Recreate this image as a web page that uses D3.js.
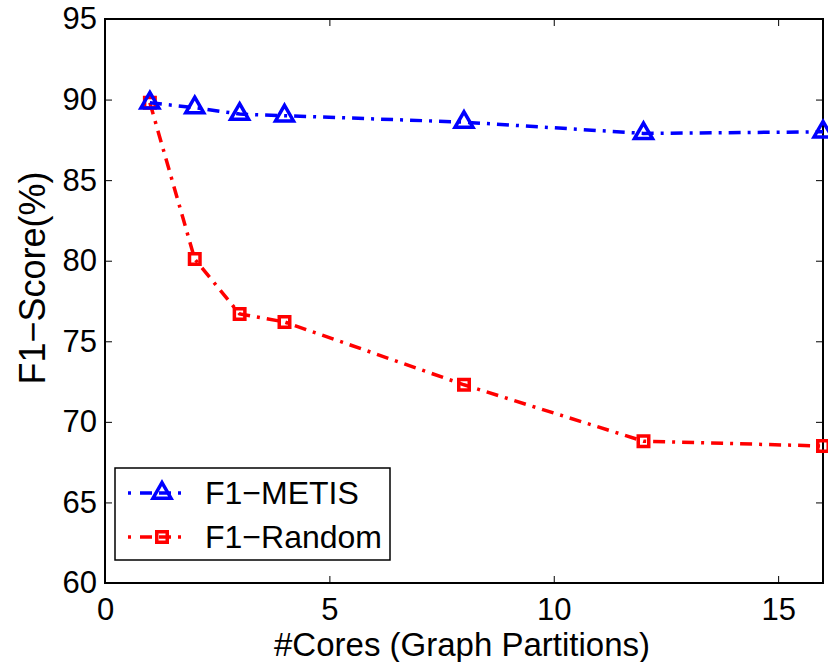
<!DOCTYPE html>
<html><head><meta charset="utf-8">
<script src="https://cdn.jsdelivr.net/npm/d3@7"></script>
<style>body{margin:0;background:#fff}svg{display:block}text{font-family:"Liberation Sans",Arial,sans-serif}</style>
</head><body>
<script>
const cores = [1, 2, 3, 4, 8, 12, 16];
const metis = [89.8, 89.5, 89.1, 89.0, 88.6, 87.9, 88.0];
const random = [89.8, 80.1, 76.7, 76.2, 72.3, 68.8, 68.5];
const xTicks = [0, 5, 10, 15];
const yTicks = [60, 65, 70, 75, 80, 85, 90, 95];
const seriesNames = ["F1\u2212METIS", "F1\u2212Random"];

const W = 828, H = 662;
const L = 105, R = 823, T = 19, B = 583;
const svg = d3.select("body").append("svg").attr("width", W).attr("height", H);
const x = d3.scaleLinear().domain([0, 16]).range([L, R]);
const y = d3.scaleLinear().domain([60, 95]).range([B, T]);

const fs = 31;
const gB = svg.append("g").attr("transform", `translate(0,${B})`)
  .call(d3.axisBottom(x).tickValues(xTicks).tickSize(-7).tickFormat(d3.format("d")));
const gL = svg.append("g").attr("transform", `translate(${L},0)`)
  .call(d3.axisLeft(y).tickValues(yTicks).tickSize(-7).tickPadding(8).tickFormat(d3.format("d")));
const gT = svg.append("g").attr("transform", `translate(0,${T})`)
  .call(d3.axisTop(x).tickValues(xTicks).tickSize(-7).tickFormat(""));
const gR = svg.append("g").attr("transform", `translate(${R},0)`)
  .call(d3.axisRight(y).tickValues(yTicks).tickSize(-7).tickFormat(""));
[gB, gL, gT, gR].forEach(g => {
  g.select(".domain").remove();
  g.selectAll("line").attr("stroke", "#000").attr("stroke-width", 1);
  g.selectAll("text").attr("font-size", fs).attr("fill", "#000")
    .style("font-family", '"Liberation Sans",Arial,sans-serif');
});
gB.selectAll("text").attr("y", 37).attr("dy", null);
svg.append("rect").attr("x", L).attr("y", T).attr("width", R - L).attr("height", B - T)
  .attr("fill", "none").attr("stroke", "#000").attr("stroke-width", 2);

svg.append("text").attr("x", 462).attr("y", 656).attr("text-anchor", "middle")
  .attr("font-size", 33).text("#Cores (Graph Partitions)");
svg.append("text").attr("transform", `translate(45,278) rotate(-90)`)
  .attr("text-anchor", "middle").attr("font-size", 36).text("F1\u2212Score(%)");

const dash = "12,7,3,7";
const line = d3.line().x(d => x(d[0])).y(d => y(d[1]));
const tri = d3.symbol().type(d3.symbolTriangle).size(140);
const sq = d3.symbol().type(d3.symbolSquare).size(110);

function drawSeries(vals, color, sym) {
  const data = cores.map((c, i) => [c, vals[i]]);
  svg.append("path").datum(data).attr("d", line).attr("fill", "none")
    .attr("stroke", color).attr("stroke-width", 3.5).attr("stroke-dasharray", dash);
  svg.selectAll(null).data(data).enter().append("path")
    .attr("d", sym).attr("transform", d => `translate(${x(d[0])},${y(d[1])})`)
    .attr("fill", "none").attr("stroke", color).attr("stroke-width", 3.5);
}
drawSeries(random, "#ff0000", sq);
drawSeries(metis, "#0000ff", tri);

const lg = svg.append("g");
lg.append("rect").attr("x", 115).attr("y", 468).attr("width", 275).attr("height", 92)
  .attr("fill", "#fff").attr("stroke", "#000").attr("stroke-width", 1.5);
const items = [
  {n: seriesNames[0], c: "#0000ff", s: tri, yy: 493},
  {n: seriesNames[1], c: "#ff0000", s: sq, yy: 537}];
items.forEach(it => {
  lg.append("line").attr("x1", 128).attr("x2", 190).attr("y1", it.yy).attr("y2", it.yy)
    .attr("stroke", it.c).attr("stroke-width", 3.5).attr("stroke-dasharray", "3,9,12,7,12,7");
  lg.append("path").attr("d", it.s).attr("transform", `translate(162,${it.yy})`)
    .attr("fill", "none").attr("stroke", it.c).attr("stroke-width", 3.5);
  lg.append("text").attr("x", 205).attr("y", it.yy).attr("dy", "0.35em")
    .attr("font-size", 32).text(it.n);
});
</script>
</body></html>
